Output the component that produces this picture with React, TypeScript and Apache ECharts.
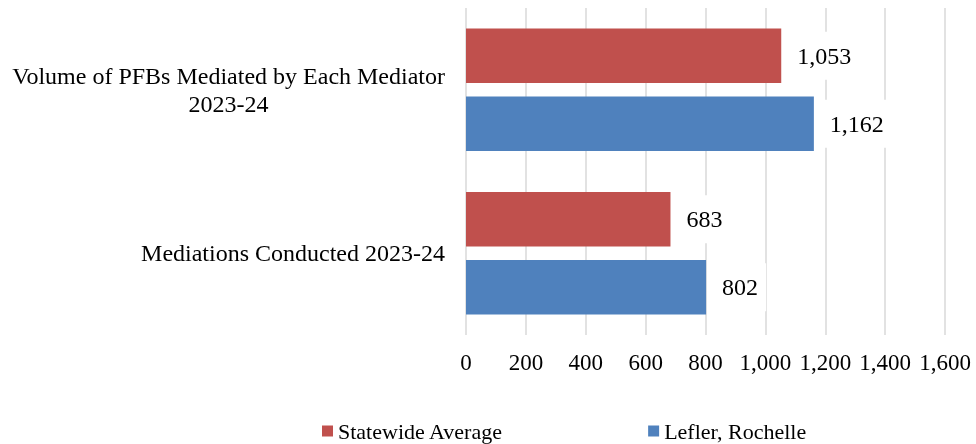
import React, { useEffect, useRef } from "react";
import * as echarts from "echarts";

const categories = [
  "Volume of PFBs Mediated by Each Mediator\n2023-24",
  "Mediations Conducted 2023-24",
];
const seriesNames = ["Statewide Average", "Lefler, Rochelle"];
const statewideValues = [1053, 683];
const leflerValues = [1162, 802];
const xTicks = { min: 0, max: 1600, interval: 200 };

const FONT = "'Liberation Serif', 'Times New Roman', serif";
const fmt = (v: number) => v.toLocaleString("en-US");

export default function App() {
  const ref = useRef<HTMLDivElement>(null);
  useEffect(() => {
    if (!ref.current) return;
    const chart = echarts.init(ref.current, null, { renderer: "svg" });
    const label = {
      show: true,
      position: "right",
      distance: 8,
      formatter: (p: any) => fmt(p.value),
      color: "#000",
      fontFamily: FONT,
      fontSize: 24,
      backgroundColor: "#fff",
      padding: [12, 8],
    };
    chart.setOption({
      animation: false,
      textStyle: { fontFamily: FONT },
      grid: { left: 466, right: 31, top: 8, bottom: 109, containLabel: false },
      legend: {
        left: 317,
        top: 415,
        itemWidth: 11,
        itemHeight: 11,
        itemGap: 145,
        icon: "rect",
        textStyle: { fontFamily: FONT, fontSize: 22, color: "#000" },
        data: seriesNames,
      },
      xAxis: {
        type: "value",
        min: xTicks.min,
        max: xTicks.max,
        interval: xTicks.interval,
        axisLine: { show: false },
        axisTick: { show: false },
        splitLine: { show: true, lineStyle: { color: "#d9d9d9", width: 1.5 } },
        axisLabel: {
          formatter: (v: number) => fmt(v),
          fontFamily: FONT,
          fontSize: 23,
          color: "#000",
          margin: 16,
        },
      },
      yAxis: {
        type: "category",
        inverse: true,
        data: categories,
        axisLine: { show: false },
        axisTick: { show: false },
        axisLabel: {
          margin: 21,
          color: "#000",
          fontFamily: FONT,
          fontSize: 24,
          lineHeight: 28,
          formatter: (v: string) =>
            v
              .split("\n")
              .map((s) => `{c|${s}}`)
              .join("\n"),
          rich: {
            c: {
              align: "center",
              fontFamily: FONT,
              fontSize: 24,
              lineHeight: 28,
              color: "#000",
            },
          },
        },
      },
      series: [
        {
          name: seriesNames[0],
          type: "bar",
          data: statewideValues,
          itemStyle: { color: "#C0504D" },
          barGap: "25%",
          barCategoryGap: "25%",
          label,
        },
        {
          name: seriesNames[1],
          type: "bar",
          data: leflerValues,
          itemStyle: { color: "#4F81BD" },
          barGap: "25%",
          barCategoryGap: "25%",
          label,
        },
      ],
    });
    return () => chart.dispose();
  }, []);
  return (
    <div
      ref={ref}
      style={{ position: "fixed", left: 0, top: 0, width: 976, height: 444 }}
    />
  );
}
